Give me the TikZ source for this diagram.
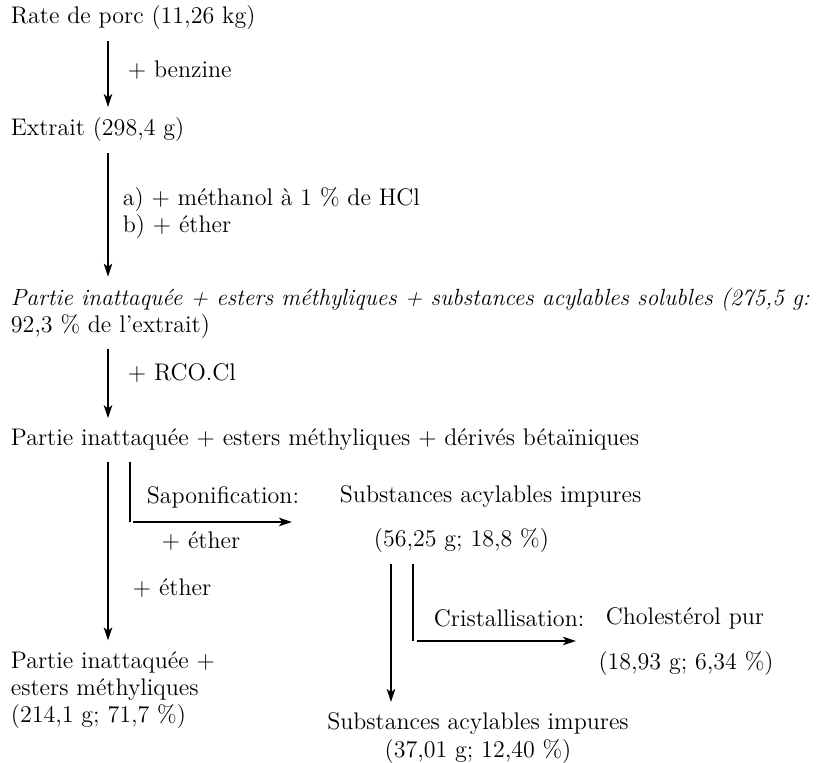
\documentclass[tikz,border=0pt]{standalone}
\usepackage{fontspec}
\usepackage{tikz}
\usetikzlibrary{arrows.meta}

\begin{document}
\begin{tikzpicture}[
                    x=0.5pt, y=-0.5pt,
                    ->, >={Stealth[length=6.5pt,width=4.2pt,inset=1.6pt]},
                    shorten <=2pt,
                    shorten >=2pt,
                    line width=0.9pt,
                    every node/.style={inner sep=3pt, font=\fontsize{12}{13.6}\selectfont},
                    txt/.style={anchor=west, align=left}
                ]
                \useasboundingbox (0,0) rectangle (829,763);
                % columns of the arrows
                \coordinate (colA) at (108,0);
                \coordinate (colB) at (130,0);
                \coordinate (colC) at (391,0);
                \coordinate (colD) at (413,0);

                \node[txt] (rate) at (4,18) {Rate de porc (11,26 kg)};
                \node[txt] (extrait) at (4,130) {Extrait (298,4 g)};
                \node[txt] (melange) at (4,313) {{\fontsize{11.7}{13.6}\selectfont\itshape Partie inattaquée + esters méthyliques + substances acylables solubles (275,5 g:}\\92,3 \% de l’extrait)};
                \node[txt] (betain) at (4,440) {Partie inattaquée + esters méthyliques + dérivés bétaïniques};
                \node[txt] (residu) at (4,690) {Partie inattaquée +\\esters méthyliques\\(214,1 g; 71,7 \%)};
                \node[txt] (brutes) at (333,497) {Substances acylables impures};
                \node[txt] (brutesq) at (367,541) {(56,25 g; 18,8 \%)};
                \node (cholest) at (685,618) {Cholestérol pur};
                \node (cholestq) at (686,664) {(18,93 g; 6,34 \%)};
                \node[align=center] (impur) at (478,738) {Substances acylables impures\\(37,01 g; 12,40 \%)};

                % reagents
                \node[txt] (benzine) at (121,70) {+ benzine};
                \node[txt] (methanol) at (116,213) {a) + méthanol à 1 \% de HCl\\b) + éther};
                \node[txt] (rco) at (121,373) {+ RCO.Cl};
                \node[txt] (sapon) at (140,497) {Saponification:};
                \node[txt] (ether) at (155,541) {+ éther};
                \node[txt] (etherb) at (126,588) {+ éther};
                \node[txt] (cristal) at (427,618) {Cristallisation:};

                \coordinate (sapTip) at (292,522);
                \coordinate (criTip) at (576,641);

                \path
                (rate.south -| colA) edge (extrait.north -| colA)
                (extrait.south -| colA) edge (melange.north -| colA)
                (melange.south -| colA) edge (betain.north -| colA)
                (betain.south -| colA) edge (residu.north -| colA)
                (brutesq.south -| colC) edge (impur.north -| colC)
                ;
                \draw[-, shorten >=0pt] (betain.south -| colB) -- (colB |- sapTip);
                \draw[shorten <=1.5pt, shorten >=0pt] (colB |- sapTip) -- (sapTip);
                \draw[-, shorten >=0pt] (brutesq.south -| colD) -- (colD |- criTip);
                \draw[shorten <=2pt, shorten >=0pt] (colD |- criTip) -- (criTip);
            \end{tikzpicture}
\end{document}
